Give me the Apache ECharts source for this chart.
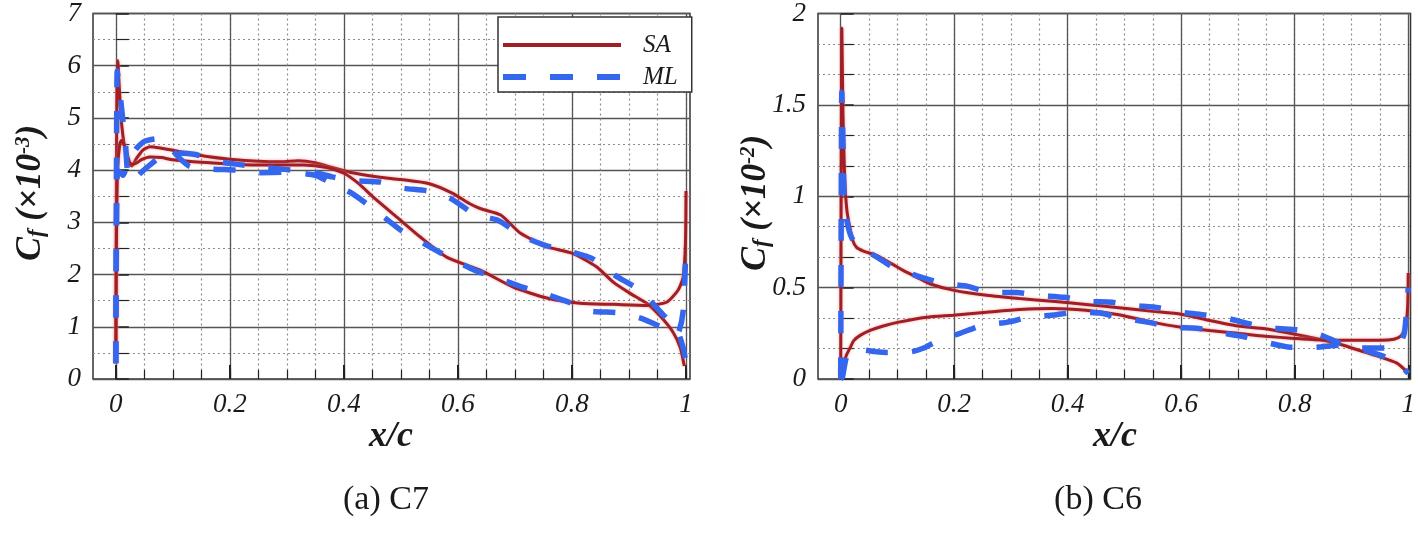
<!DOCTYPE html>
<html><head><meta charset="utf-8">
<script src="https://cdn.jsdelivr.net/npm/echarts@6/dist/echarts.min.js"></script>
<style>html,body{margin:0;padding:0;background:#fff}#c{width:1418px;height:535px}</style>
</head><body><div id="c"></div>
<script>
// ---------- tick values ----------
const xMajorTicks = [0, 0.2, 0.4, 0.6, 0.8, 1];
const xMinorTicks = [0,0.05,0.1,0.15,0.2,0.25,0.3,0.35,0.4,0.45,0.5,0.55,0.6,0.65,0.7,0.75,0.8,0.85,0.9,0.95,1];
const yRangeC7 = [0, 7];   // Cf x10^-3
const yRangeC6 = [0, 2];   // Cf x10^-2

// ---------- (a) C7 : Cf (x10^-3) ----------
const saC7Upper = [[0,0.3],[0.0008,3.0],[0.002,5.6],[0.0035,6.1],[0.006,5.6],[0.01,4.9],[0.016,4.4],[0.022,4.15],[0.028,4.08],[0.036,4.22],[0.047,4.38],[0.06,4.45],[0.08,4.42],[0.1,4.38],[0.13,4.32],[0.16,4.26],[0.2,4.21],[0.25,4.17],[0.29,4.16],[0.32,4.18],[0.35,4.14],[0.38,4.05],[0.41,3.96],[0.46,3.87],[0.5,3.82],[0.55,3.74],[0.59,3.56],[0.62,3.36],[0.64,3.26],[0.675,3.14],[0.71,2.79],[0.757,2.53],[0.8,2.41],[0.843,2.15],[0.873,1.85],[0.902,1.64],[0.931,1.45],[0.955,1.2],[0.977,0.9],[0.99,0.6],[0.997,0.25]];
const saC7Lower = [[0,0.3],[0.001,2.5],[0.003,4.0],[0.007,4.5],[0.01,4.57],[0.014,4.5],[0.02,4.3],[0.026,4.12],[0.033,4.12],[0.045,4.2],[0.06,4.25],[0.08,4.24],[0.1,4.2],[0.15,4.15],[0.2,4.12],[0.25,4.1],[0.3,4.1],[0.33,4.1],[0.37,4.05],[0.4,3.94],[0.425,3.75],[0.452,3.48],[0.493,3.1],[0.534,2.72],[0.581,2.33],[0.64,2.08],[0.697,1.76],[0.756,1.55],[0.814,1.45],[0.873,1.43],[0.931,1.41],[0.966,1.47],[0.986,1.7],[0.995,1.95],[0.999,2.6],[1.0,3.6]];
const mlC7Upper = [[0,0.3],[0.001,3.5],[0.0025,5.9],[0.006,5.6],[0.012,5.0],[0.017,4.5],[0.021,3.9],[0.026,3.8],[0.035,3.85],[0.044,3.95],[0.06,4.1],[0.082,4.28],[0.11,4.33],[0.14,4.3],[0.166,4.2],[0.2,4.13],[0.25,4.06],[0.3,4.01],[0.35,3.95],[0.38,3.87],[0.415,3.8],[0.464,3.77],[0.5,3.66],[0.548,3.6],[0.587,3.46],[0.63,3.15],[0.67,3.04],[0.715,2.73],[0.753,2.56],[0.797,2.44],[0.835,2.31],[0.879,1.96],[0.919,1.7],[0.96,1.23],[0.984,0.95],[0.995,0.6],[1.0,0.3]];
const mlC7Lower = [[0,0.3],[0.001,2.5],[0.003,4.0],[0.008,3.95],[0.013,3.9],[0.02,4.1],[0.035,4.4],[0.05,4.55],[0.07,4.6],[0.09,4.5],[0.11,4.25],[0.13,4.07],[0.17,4.02],[0.21,4.0],[0.25,3.95],[0.3,3.96],[0.35,3.9],[0.38,3.74],[0.415,3.55],[0.46,3.19],[0.5,2.85],[0.546,2.56],[0.587,2.31],[0.63,2.08],[0.665,1.95],[0.713,1.76],[0.75,1.64],[0.797,1.46],[0.832,1.3],[0.879,1.27],[0.919,1.17],[0.96,0.98],[0.984,0.85],[0.995,1.3],[1.0,2.6]];

// ---------- (b) C6 : Cf (x10^-2) ----------
const saC6Upper = [[0,0.02],[0.0008,1.0],[0.002,1.92],[0.004,1.45],[0.007,1.1],[0.011,0.92],[0.016,0.83],[0.021,0.76],[0.028,0.72],[0.04,0.7],[0.064,0.675],[0.09,0.63],[0.11,0.594],[0.135,0.555],[0.158,0.52],[0.2,0.485],[0.257,0.458],[0.315,0.44],[0.373,0.425],[0.432,0.408],[0.49,0.39],[0.55,0.37],[0.6,0.354],[0.65,0.32],[0.7,0.29],[0.748,0.275],[0.8,0.245],[0.835,0.223],[0.88,0.19],[0.923,0.147],[0.951,0.12],[0.98,0.087],[1.0,0.033]];
const saC6Lower = [[0,0.02],[0.002,0.06],[0.005,0.08],[0.01,0.13],[0.018,0.18],[0.023,0.21],[0.035,0.24],[0.053,0.267],[0.075,0.29],[0.1,0.31],[0.152,0.338],[0.198,0.349],[0.257,0.365],[0.315,0.38],[0.373,0.386],[0.432,0.376],[0.49,0.352],[0.55,0.31],[0.6,0.283],[0.65,0.265],[0.7,0.25],[0.748,0.234],[0.8,0.222],[0.835,0.215],[0.9,0.212],[0.951,0.212],[0.975,0.218],[0.987,0.235],[0.995,0.28],[0.999,0.4],[1.0,0.58]];
const mlC6Upper = [[0,0.0],[0.0008,0.8],[0.002,1.57],[0.004,1.3],[0.006,1.0],[0.01,0.88],[0.016,0.8],[0.025,0.74],[0.04,0.71],[0.053,0.687],[0.075,0.645],[0.093,0.61],[0.12,0.58],[0.143,0.556],[0.18,0.523],[0.224,0.507],[0.263,0.474],[0.31,0.474],[0.347,0.458],[0.394,0.447],[0.432,0.425],[0.478,0.42],[0.513,0.403],[0.56,0.39],[0.6,0.365],[0.643,0.35],[0.68,0.333],[0.73,0.294],[0.765,0.278],[0.81,0.267],[0.846,0.24],[0.88,0.196],[0.923,0.158],[0.96,0.12],[0.985,0.08],[1.0,0.03]];
const mlC6Lower = [[0,0.0],[0.003,0.01],[0.006,0.06],[0.01,0.12],[0.016,0.15],[0.025,0.158],[0.04,0.158],[0.06,0.15],[0.082,0.145],[0.105,0.145],[0.126,0.15],[0.145,0.168],[0.163,0.196],[0.186,0.225],[0.21,0.25],[0.25,0.294],[0.292,0.31],[0.333,0.338],[0.376,0.35],[0.415,0.365],[0.459,0.36],[0.496,0.333],[0.543,0.31],[0.583,0.283],[0.627,0.278],[0.665,0.256],[0.713,0.23],[0.75,0.2],[0.793,0.174],[0.835,0.174],[0.879,0.185],[0.916,0.169],[0.963,0.169],[0.98,0.17],[0.993,0.25],[1.0,0.5]];

const FONT = "'Liberation Serif','DejaVu Serif',serif";
const SA_COLOR = '#a11f24';
const ML_COLOR = '#3467ee';
const TXT = '#1a1a1a';

function minorX(g, max) {
  return {type:'value', gridIndex:g, position:'bottom', min:-0.04, max:max,
    axisLine:{show:false},
    axisTick:{show:true, inside:true, length:9, customValues:xMinorTicks, lineStyle:{color:'#222', width:1.2}},
    axisLabel:{show:true, customValues:xMajorTicks, margin:12, fontFamily:FONT, fontStyle:'italic', fontSize:27, color:TXT,
      formatter: v => String(+(+v).toFixed(2))},
    splitLine:{show:true, lineStyle:{color:'#8c8c8c', type:[2,3], width:1.2}}};
}
function majorX(g, max) {
  return {type:'value', gridIndex:g, position:'bottom', offset:0, min:-0.04, max:max,
    axisLine:{show:false},
    axisTick:{show:true, inside:true, length:14, customValues:xMajorTicks, lineStyle:{color:'#222', width:2}},
    axisLabel:{show:false},
    splitLine:{show:true, lineStyle:{color:'#555', width:1.3}}};
}
function yAx(g, range, interval, minorSplit) {
  return {type:'value', gridIndex:g, min:range[0], max:range[1], interval:interval,
    axisLine:{show:false},
    axisTick:{show:true, inside:true, length:13, lineStyle:{color:'#222', width:1.5}},
    minorTick:{show:true, splitNumber:minorSplit, length:13, lineStyle:{color:'#222', width:1.2}},
    axisLabel:{margin:12, fontFamily:FONT, fontStyle:'italic', fontSize:27, color:TXT},
    splitLine:{show:true, lineStyle:{color:'#555', width:1.3}},
    minorSplitLine:{show:true, lineStyle:{color:'#8c8c8c', type:[2,3], width:1.2}}};
}
function sa(data, xi, yi) {
  return {name:'SA', type:'line', xAxisIndex:xi, yAxisIndex:yi, data:data, symbol:'none', smooth:0.2,
    itemStyle:{color:SA_COLOR},
    lineStyle:{color:SA_COLOR, width:3, shadowColor:'rgba(235,130,130,0.7)', shadowBlur:3}, z:3};
}
function ml(data, xi, yi) {
  return {name:'ML', type:'line', xAxisIndex:xi, yAxisIndex:yi, data:data, symbol:'none', smooth:0.2,
    itemStyle:{color:ML_COLOR},
    lineStyle:{color:ML_COLOR, width:5.5, type:[22,24], cap:'butt'}, z:4};
}
function yTitle(x, y, exp) {
  const b = {fontFamily:FONT, fontWeight:'bold', fontStyle:'italic', fill:TXT};
  return {type:'text', x:x, y:y, rotation:Math.PI/2, z:10,
    style:{text:'{c|C}{s|f}{n| (×10}{p|' + exp + '}{n|)}', align:'center', verticalAlign:'middle',
      rich:{
        c:Object.assign({fontSize:36}, b),
        s:Object.assign({fontSize:23, verticalAlign:'bottom'}, b),
        n:Object.assign({fontSize:35}, b),
        p:Object.assign({fontSize:21, verticalAlign:'top'}, b)
      }}};
}
function plainText(x, y, txt, size, bold) {
  return {type:'text', x:x, y:y, z:10,
    style:{text:txt, fontFamily:FONT, fontSize:size, fontWeight:bold?'bold':'normal', fontStyle:bold?'italic':'normal',
      fill:TXT, align:'center', verticalAlign:'middle'}};
}

const chart = echarts.init(document.getElementById('c'), null, {renderer:'canvas'});
chart.setOption({
  animation:false,
  backgroundColor:'#fff',
  grid:[
    {left:93, top:13, width:597, height:366, show:true, borderColor:'#333', borderWidth:1.5, backgroundColor:'transparent'},
    {left:818, top:12, width:595, height:367, show:true, borderColor:'#333', borderWidth:1.5, backgroundColor:'transparent'}
  ],
  xAxis:[minorX(0, 1.007), majorX(0, 1.007), minorX(1, 1.004), majorX(1, 1.004)],
  yAxis:[yAx(0, yRangeC7, 1, 2), yAx(1, yRangeC6, 0.5, 3)],
  legend:{
    data:[
      {name:'SA', lineStyle:{width:4, color:SA_COLOR}},
      {name:'ML', lineStyle:{width:6, color:ML_COLOR, type:[23,24]}}
    ],
    orient:'vertical', left:498, top:17, padding:[13,14,0,2], itemGap:2,
    itemWidth:118, itemHeight:14, backgroundColor:'#fff', borderColor:'#333', borderWidth:1.5, selectedMode:false,
    itemStyle:{opacity:0},
    textStyle:{fontFamily:FONT, fontStyle:'italic', fontSize:25, color:TXT, lineHeight:30, padding:[0,0,0,17]}},
  series:[
    sa(saC7Upper, 0, 0), sa(saC7Lower, 0, 0), ml(mlC7Upper, 0, 0), ml(mlC7Lower, 0, 0),
    sa(saC6Upper, 2, 1), sa(saC6Lower, 2, 1), ml(mlC6Upper, 2, 1), ml(mlC6Lower, 2, 1)
  ],
  graphic:[
    yTitle(31, 193, '-3'),
    yTitle(756, 203, '-2'),
    plainText(391, 437, 'x/c', 36, true),
    plainText(1115, 437, 'x/c', 36, true),
    plainText(386, 500, '(a) C7', 34, false),
    plainText(1098, 500, '(b) C6', 34, false)
  ]
});
</script>
</body></html>
